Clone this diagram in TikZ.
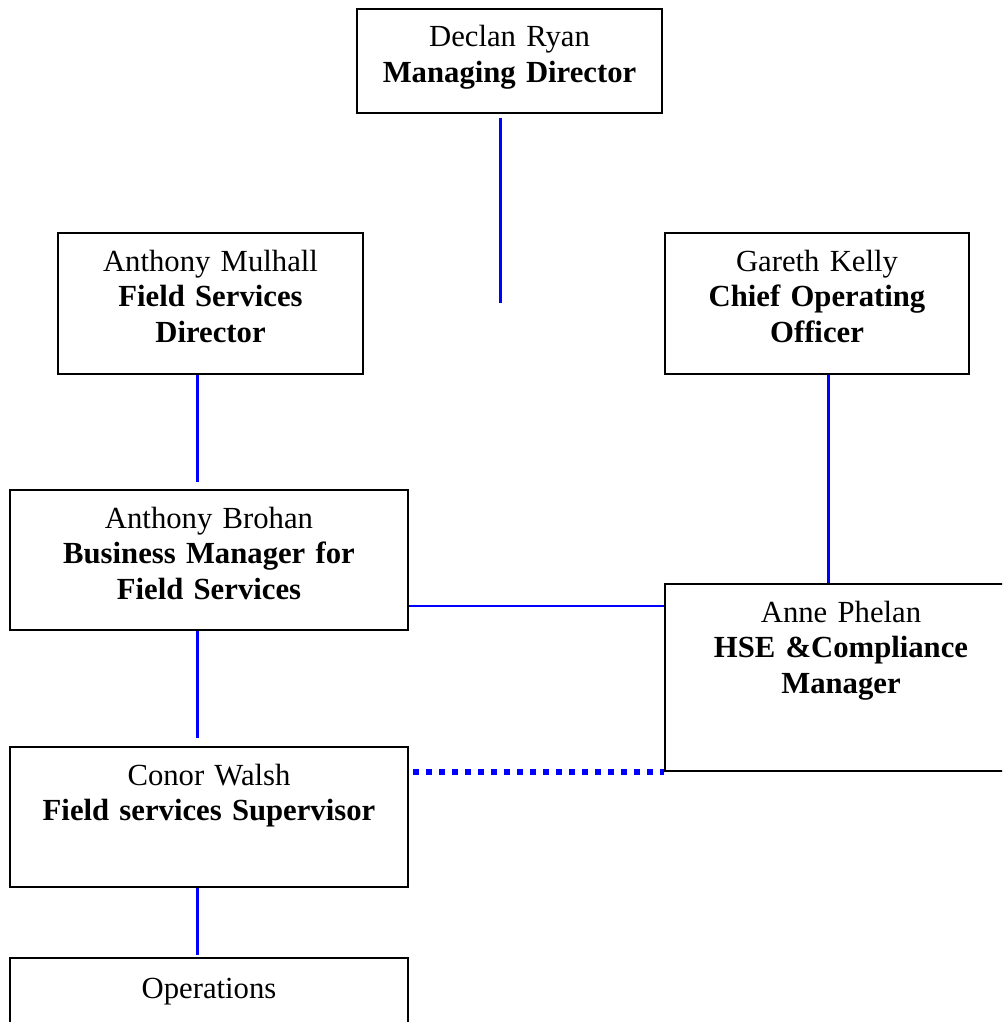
\documentclass[tikz,border=0pt]{standalone}
\usepackage{fontspec}
\setmainfont{Liberation Serif}

\begin{document}
\begin{tikzpicture}[x=1pt, y=-1pt]
\useasboundingbox (0,0) rectangle (1002,1022);
\clip (0,0) rectangle (1002,1022);

\coordinate (V_md) at (356, 8);
\coordinate (V_fsd) at (57, 232);
\coordinate (V_coo) at (664, 232);
\coordinate (V_bm) at (9, 489);
\coordinate (V_hse) at (664, 583);
\coordinate (V_sup) at (9, 746);
\coordinate (V_ops) at (9, 957);

\coordinate (ColL) at (197, 0);
\coordinate (ColM) at (500, 0);
\coordinate (ColR) at (828, 0);
\coordinate (Row1) at (0, 606);
\coordinate (MD_end) at (500, 303);


\tikzset{BoxStyle/.style = {
 draw, line width = 2pt,
 anchor = north west,
 inner sep = 0pt,
 align = center,
 font = \fontsize{30.7}{35.5}\selectfont,
 text height = 38pt} }

\node[BoxStyle, text width=305pt, text depth=66pt] (MD) at (V_md) {Declan Ryan\\\textbf{Managing Director}};
\node[BoxStyle, text width=305pt, text depth=103pt] (FSD) at (V_fsd) {Anthony Mulhall\\\textbf{Field Services}\\\textbf{Director}};
\node[BoxStyle, text width=304pt, text depth=103pt] (COO) at (V_coo) {Gareth Kelly\\\textbf{Chief Operating}\\\textbf{Officer}};
\node[BoxStyle, text width=398pt, text depth=102pt] (BM) at (V_bm) {Anthony Brohan\\\textbf{Business Manager for}\\\textbf{Field Services}};
\node[BoxStyle, text width=352pt, text depth=149pt] (HSE) at (V_hse) {Anne Phelan\\\textbf{HSE \&Compliance}\\\textbf{Manager}};
\node[BoxStyle, text width=398pt, text depth=102pt] (SUP) at (V_sup) {Conor Walsh\\\textbf{Field services Supervisor}};
\node[BoxStyle, text width=398pt, text height=40pt, text depth=100pt] (OPS) at (V_ops) {Operations};


\tikzset{EdgeStyle/.style = {blue, line width=3pt} }
\tikzset{DotStyle/.style = {blue, line width=6pt, dash pattern=on 6pt off 7pt} }

\draw[EdgeStyle, shorten <=4pt] (MD.south -| ColM) -- (MD_end);
\draw[EdgeStyle, shorten >=7pt] (FSD.south -| ColL) -- (BM.north -| ColL);
\draw[EdgeStyle] (COO.south -| ColR) -- (HSE.north -| ColR);
\draw[EdgeStyle, shorten >=8pt] (BM.south -| ColL) -- (SUP.north -| ColL);
\draw[EdgeStyle, shorten >=2pt] (SUP.south -| ColL) -- (OPS.north -| ColL);
\draw[EdgeStyle, line width=1.5pt] (BM.east |- Row1) -- (HSE.west |- Row1);
\draw[DotStyle, shorten <=4pt] (SUP.east |- HSE.south) -- (HSE.south west);

\end{tikzpicture}
\end{document}
